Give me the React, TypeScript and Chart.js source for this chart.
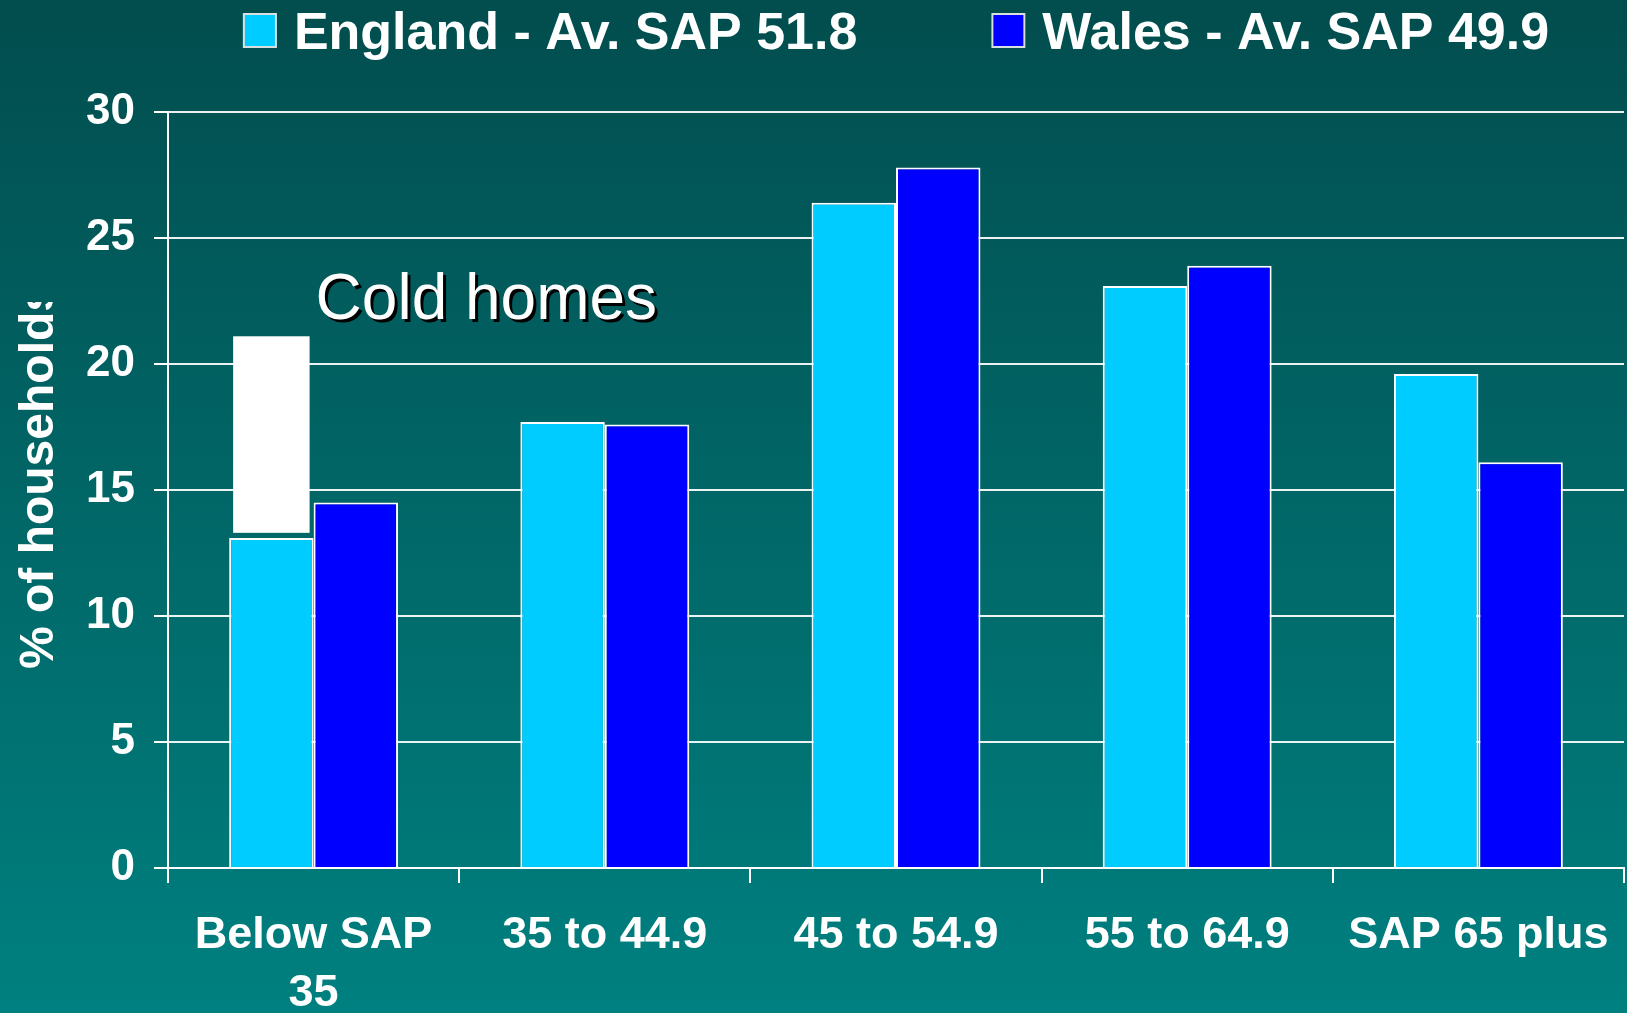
import { useEffect, useRef } from 'react';
import { Chart, registerables } from 'chart.js';

Chart.register(...registerables);

const categories: (string | string[])[] = [['Below SAP', '35'], '35 to 44.9', '45 to 54.9', '55 to 64.9', 'SAP 65 plus'];
const englandValues = [13.1, 17.7, 26.4, 23.1, 19.6];
const walesValues = [14.5, 17.6, 27.8, 23.9, 16.1];
const seriesLabels = ['England - Av. SAP 51.8', 'Wales - Av. SAP 49.9'];
const seriesColors = ['#00CCFF', '#0000FF'];
const yTicks = [0, 5, 10, 15, 20, 25, 30];
const yAxisTitle = '% of households';
const coldBand = [13.3, 21.1];
const coldLabel = 'Cold homes';
const coldLabelBaseline = 21.8;

const FONT = '"Liberation Sans", Arial, Helvetica, sans-serif';

export default function App() {
  const ref = useRef<HTMLCanvasElement>(null);

  useEffect(() => {
    const canvas = ref.current;
    if (!canvas) return;

    const overlay = {
      id: 'overlay',
      afterDatasetsDraw(chart: any) {
        const ctx = chart.ctx;
        const y = chart.scales.y;
        const e0 = chart.getDatasetMeta(0).data[0] as any;
        const e1 = chart.getDatasetMeta(1).data[0] as any;
        const inset = 4;
        const left = e0.x - e0.width / 2 + inset;
        const right = e0.x + e0.width / 2 - inset;
        const top = y.getPixelForValue(coldBand[1]);
        const bottom = y.getPixelForValue(coldBand[0]);
        ctx.save();
        ctx.fillStyle = '#ffffff';
        ctx.fillRect(left, top, right - left, bottom - top);
        ctx.font = `64px ${FONT}`;
        ctx.textAlign = 'left';
        ctx.textBaseline = 'alphabetic';
        const tx = e1.x - e1.width / 2 + 2;
        const ty = y.getPixelForValue(coldLabelBaseline);
        ctx.fillStyle = '#000000';
        ctx.fillText(coldLabel, tx + 3, ty + 3);
        ctx.fillStyle = '#ffffff';
        ctx.fillText(coldLabel, tx, ty);
        ctx.restore();
      },
      afterDraw(chart: any) {
        const ctx = chart.ctx;
        const area = chart.chartArea;
        // Legend
        ctx.save();
        ctx.font = `bold 52px ${FONT}`;
        const ds = chart.data.datasets;
        const widths = ds.map((d: any) => ctx.measureText(d.label).width);
        const box = 34, gap = 17, itemGap = 134;
        let total = 0;
        widths.forEach((w: number) => { total += box + gap + w; });
        total += itemGap * (ds.length - 1);
        let x = (area.left + area.right) / 2 - total / 2;
        ds.forEach((d: any, i: number) => {
          ctx.fillStyle = d.backgroundColor;
          ctx.fillRect(x, 13, box, 35);
          ctx.strokeStyle = '#d8e0e0';
          ctx.lineWidth = 2;
          ctx.strokeRect(x + 1, 14, box - 2, 33);
          ctx.fillStyle = '#ffffff';
          ctx.textAlign = 'left';
          ctx.textBaseline = 'alphabetic';
          ctx.fillText(d.label, x + box + gap, 49);
          x += box + gap + widths[i] + itemGap;
        });
        ctx.restore();
        // Y axis title (clipped like the original)
        ctx.save();
        ctx.beginPath();
        ctx.rect(0, 302, area.left, chart.height - 302);
        ctx.clip();
        ctx.translate(53, 669);
        ctx.rotate(-Math.PI / 2);
        ctx.font = `bold 48px ${FONT}`;
        ctx.fillStyle = '#ffffff';
        ctx.textAlign = 'left';
        ctx.textBaseline = 'alphabetic';
        ctx.fillText(yAxisTitle, 0, 0);
        ctx.restore();
      },
    };

    const chart = new Chart(canvas, {
      type: 'bar',
      data: {
        labels: categories,
        datasets: [
          {
            label: seriesLabels[0],
            data: englandValues,
            backgroundColor: seriesColors[0],
            borderColor: '#ffffff',
            borderWidth: 2,
            categoryPercentage: 0.58,
            barPercentage: 1.0,
          },
          {
            label: seriesLabels[1],
            data: walesValues,
            backgroundColor: seriesColors[1],
            borderColor: '#ffffff',
            borderWidth: 2,
            categoryPercentage: 0.58,
            barPercentage: 1.0,
          },
        ],
      },
      options: {
        responsive: false,
        animation: false,
        devicePixelRatio: 1,
        layout: { padding: { top: 112, right: 3, left: 0, bottom: 0 } },
        plugins: {
          legend: { display: false },
          tooltip: { enabled: false },
        },
        scales: {
          x: {
            grid: {
              display: true,
              drawOnChartArea: false,
              drawTicks: true,
              tickLength: 15,
              color: '#ffffff',
              lineWidth: 2,
              offset: true,
            },
            border: { display: true, color: '#ffffff', width: 2 },
            ticks: {
              color: '#ffffff',
              font: { family: FONT, size: 45, weight: 'bold', lineHeight: 1.3 },
              padding: 23,
              maxRotation: 0,
              autoSkip: false,
            },
            afterFit: (s: any) => {
              s.height = 145;
              s.paddingRight = 0;
              s.paddingLeft = 0;
            },
          },
          y: {
            min: 0,
            max: 30,
            afterBuildTicks: (s: any) => { s.ticks = yTicks.map((v) => ({ value: v })); },
            ticks: {
              color: '#ffffff',
              font: { family: FONT, size: 44, weight: 'bold' },
              padding: 19,
            },
            grid: {
              color: 'rgba(255,255,255,0.92)',
              lineWidth: 2,
              tickLength: 14,
              tickColor: '#ffffff',
            },
            border: { display: true, color: '#ffffff', width: 2 },
            afterFit: (s: any) => { s.width = 168; },
          },
        },
      },
      plugins: [overlay],
    } as any);

    return () => chart.destroy();
  }, []);

  return (
    <div
      style={{
        position: 'absolute',
        left: 0,
        top: 0,
        width: 1627,
        height: 1013,
        overflow: 'hidden',
        background: 'linear-gradient(180deg, #024d4e 0%, #008080 100%)',
      }}
    >
      <canvas ref={ref} width={1627} height={1013} style={{ display: 'block' }} />
    </div>
  );
}
